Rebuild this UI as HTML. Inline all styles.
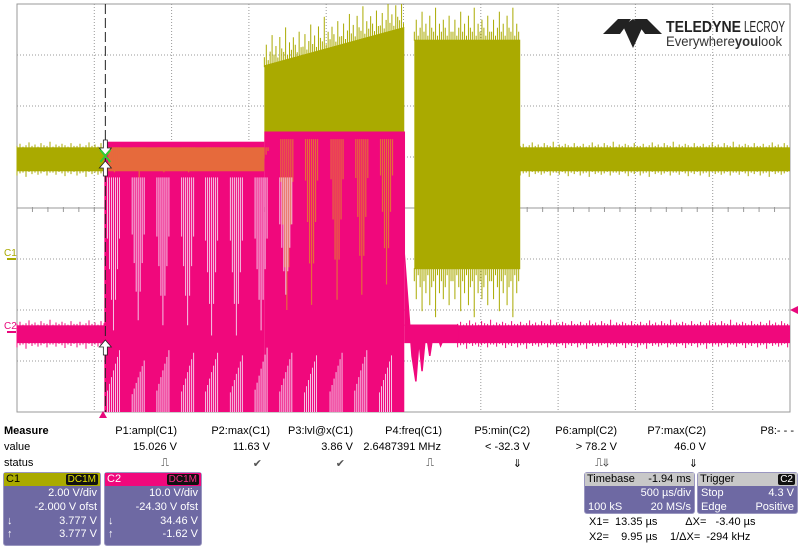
<!DOCTYPE html>
<html><head><meta charset="utf-8">
<style>
body{margin:0;background:#fff;width:800px;height:547px;overflow:hidden;font-family:"Liberation Sans",sans-serif;}
#scope{position:absolute;left:0;top:0;}
.t{position:absolute;font-size:11px;color:#000;white-space:nowrap;}
.r{text-align:right;}
.box{position:absolute;background:#6e69a3;border:1px solid #9a97c0;border-radius:3px;color:#fff;font-size:11px;}
.box .hd{height:13px;line-height:13px;padding:0 2px;position:relative;}
.box .ln{height:14px;line-height:14px;position:relative;padding:0 3px;}
.box .ln span{position:absolute;right:3px;}
.tag{position:absolute;right:2px;top:1px;background:#111;border-radius:2px;font-size:10px;line-height:11px;padding:0 2px;}
</style></head><body>
<svg id="scope" width="800" height="420" viewBox="0 0 800 420" xmlns="http://www.w3.org/2000/svg">
<g id="grid"></g>
<g id="traces"></g>
<g id="overlay"></g>
<g>
<polygon points="603,34 618,19 631,19 620,34" fill="#222"/>
<polygon points="662,34 647,19 634,19 645,34" fill="#222"/>
<polygon points="623,26 633,48 643,26 633,19" fill="#222"/>
<text x="666" y="32" font-family="Liberation Sans" font-size="16" font-weight="bold" fill="#222" textLength="75" lengthAdjust="spacingAndGlyphs">TELEDYNE</text>
<text x="744" y="32" font-family="Liberation Sans" font-size="16" fill="#222" textLength="41" lengthAdjust="spacingAndGlyphs">LECROY</text>
<text x="666" y="46" font-family="Liberation Sans" font-size="13.5" fill="#333" textLength="116" lengthAdjust="spacingAndGlyphs">Everywhere<tspan font-weight="bold">you</tspan>look</text>
</g>
<text x="4" y="256" font-size="10" fill="#aaaa00" font-family="Liberation Sans">C1</text>
<rect x="7" y="258" width="9" height="2" fill="#aaaa00"/>
<text x="4" y="329" font-size="10" fill="#e8087c" font-family="Liberation Sans">C2</text>
<rect x="7" y="331" width="9" height="2" fill="#e8087c"/>
<polygon points="790,310 798,306 798,314" fill="#e8087c"/>
<polygon points="103,411 99,418 107,418" fill="#e8087c"/>
</svg>

<div class="t" style="left:4px;top:425px;font-weight:bold;">Measure</div>
<div class="t" style="left:4px;top:441px;">value</div>
<div class="t" style="left:4px;top:457px;">status</div>
<div id="meas"></div>

<div class="box" style="left:3px;top:472px;width:96px;height:72px;">
<div class="hd" style="background:#aaaa00;color:#000;">C1<span class="tag" style="color:#e6e600;">DC1M</span></div>
<div class="ln"><span>2.00 V/div</span></div>
<div class="ln"><span>-2.000 V ofst</span></div>
<div class="ln">↓<span>3.777 V</span></div>
<div class="ln" style="height:13px;line-height:13px">↑<span>3.777 V</span></div>
</div>
<div class="box" style="left:104px;top:472px;width:96px;height:72px;">
<div class="hd" style="background:#f0087c;color:#fff;">C2<span class="tag" style="color:#ff2a8a;">DC1M</span></div>
<div class="ln"><span>10.0 V/div</span></div>
<div class="ln"><span>-24.30 V ofst</span></div>
<div class="ln">↓<span>34.46 V</span></div>
<div class="ln" style="height:13px;line-height:13px">↑<span>-1.62 V</span></div>
</div>
<div class="box" style="left:584px;top:472px;width:109px;height:40px;">
<div class="hd" style="background:#c8c8c8;color:#000;">Timebase<span style="position:absolute;right:3px;">-1.94 ms</span></div>
<div class="ln"><span>500 µs/div</span></div>
<div class="ln">100 kS<span>20 MS/s</span></div>
</div>
<div class="box" style="left:697px;top:472px;width:99px;height:40px;">
<div class="hd" style="background:#c8c8c8;color:#000;">Trigger<span class="tag" style="color:#fff;">C2</span></div>
<div class="ln">Stop<span>4.3 V</span></div>
<div class="ln">Edge<span>Positive</span></div>
</div>
<div class="t" style="left:589px;top:516px;">X1=&nbsp;&nbsp;13.35 µs</div>
<div class="t" style="left:589px;top:531px;">X2=&nbsp;&nbsp;&nbsp;&nbsp;9.95 µs</div>
<div class="t" style="left:670px;top:516px;">&nbsp;&nbsp;&nbsp;&nbsp;&nbsp;ΔX=&nbsp;&nbsp;&nbsp;-3.40 µs</div>
<div class="t" style="left:670px;top:531px;">1/ΔX=&nbsp;&nbsp;-294 kHz</div>

<script>
// measurement table
const measHeaders = ["P1:ampl(C1)","P2:max(C1)","P3:lvl@x(C1)","P4:freq(C1)","P5:min(C2)","P6:ampl(C2)","P7:max(C2)","P8:- - -"];
const measValues = ["15.026 V","11.63 V","3.86 V","2.6487391 MHz","< -32.3 V","> 78.2 V","46.0 V",""];
const measStatus = ["⎍","✔","✔","⎍","⇓","⎍⇓","⇓",""];
const colRight = [177,270,353,442,530,617,706,794];
const meas = document.getElementById('meas');
function mk(txt, right, top, name){
  const d=document.createElement('div');
  d.className='t r';
  d.style.right=(800-right)+'px';
  d.style.top=top+'px';
  d.textContent=txt;
  
  
  if(txt==='✔'){d.style.color='#555';}
  meas.appendChild(d);
}
measHeaders.forEach((h,i)=>{
  mk(h,colRight[i],425,'measure-header');
  mk(measValues[i],colRight[i]-(i===3?1:0),441,'measure-value');
  mk(measStatus[i],colRight[i]-8,457,'measure-status');
});

const NS='http://www.w3.org/2000/svg';
function el(tag, attrs, parent){
  const e=document.createElementNS(NS,tag);
  for(const k in attrs) e.setAttribute(k,attrs[k]);
  parent.appendChild(e); return e;
}
const X0=17, X1=790, Y0=4, Y1=412;
const divsX=10, divsY=8;
const gx=i=>X0+(X1-X0)*i/divsX;
const gy=i=>Y0+(Y1-Y0)*i/divsY;
const grid=document.getElementById('grid');
for(let i=1;i<divsX;i++){
  const l=el('line',{x1:gx(i),x2:gx(i),y1:Y0,y2:Y1,stroke:'#999','stroke-dasharray':'1,2'},grid);
  
  
}
for(let i=1;i<divsY;i++){
  const l=el('line',{x1:X0,x2:X1,y1:gy(i),y2:gy(i),stroke:'#999','stroke-dasharray':i===4?'':'1,2'},grid);
  
  
}
for(let i=1;i<divsX*5;i++){
  const x=gx(i/5);
  el('line',{x1:x,x2:x,y1:gy(4)-1,y2:gy(4)+4,stroke:'#999'},grid);
}
const fr=el('rect',{x:X0,y:Y0,width:X1-X0,height:Y1-Y0,fill:'none',stroke:'#999'},grid);



// ---- waveform data (divisions) ----
const c1BaseTop=2.81, c1BaseBot=3.28;
const c2BaseTop=6.3, c2BaseBot=6.65;
const burstStart=1.13;
const burstEnd=5.01;
const c1Burst1=[3.2,5.01], c1Burst2=[5.14,6.51];
const c1Burst1TopL=1.2, c1Burst1TopR=0.45;
const c1Burst2Top=0.7, c1Burst2Bot=5.2;
const pinkTop=[2.7,2.5];
const groupX=[1.17,1.49,1.81,2.13,2.44,2.76,3.08,3.40,3.72,4.05,4.37,4.69];
const upperDepth=[6.4,6.2,6.3,6.3,6.5,6.5,6.4,5.7,5.9,5.6,5.7,5.5];
const lowerTop=[6.8,7.0,6.8,6.85,6.85,6.9,6.75,6.85,6.9,6.85,6.8,6.9];
const orangeDepth=[3.3,3.4,3.3,3.3,3.2,3.2,3.1,6.0,5.9,5.8,5.7,5.5];
const ringing=[[5.01,4.9],[5.06,5.9],[5.11,6.9],[5.16,7.4],[5.2,6.6],[5.24,7.2],[5.29,6.4],[5.34,6.9],[5.4,6.3],[5.48,6.7],[5.58,6.35],[5.7,6.55]];
const noise=[2,5,1,3,7,2,4,1,6,3,2,8,1,4,2,5,3,1,6,2];

const X=d=>X0+(X1-X0)*d/divsX;
const Y=d=>Y0+(Y1-Y0)*d/divsY;
const tr=document.getElementById('traces');
const YEL='#aaaa00', PNK='#f0087c', ORG='#e66a3c';
function rect(x1,y1,x2,y2,fill,name){
  const r=el('rect',{x:Math.min(x1,x2),y:Math.min(y1,y2),width:Math.abs(x2-x1),height:Math.abs(y2-y1),fill:fill},tr);
  
  
  return r;
}
function band(xa,xb,yt,yb,col,name){
  rect(xa,yt,xb,yb,col,name);
  let k=0;
  for(let x=xa;x<xb;x+=3){
    const n=noise[k%noise.length]; k++;
    el('line',{x1:x,x2:x,y1:yt-n*0.7,y2:yb+noise[(k+7)%noise.length]*0.7,stroke:col,'stroke-width':1},tr);
  }
}
band(X(0),X(burstStart),Y(c1BaseTop),Y(c1BaseBot),YEL,'c1-idle-trace');
band(X(c1Burst2[1]),X(10),Y(c1BaseTop),Y(c1BaseBot),YEL,'c1-idle-trace-after');
(function(){
  const p=el('polygon',{fill:YEL,points:[
    [X(c1Burst1[0]),Y(c1BaseTop)],[X(c1Burst1[0]),Y(c1Burst1TopL)],[X(c1Burst1[1]),Y(c1Burst1TopR)],[X(c1Burst1[1]),Y(c1BaseBot)]
  ].map(a=>a.join(',')).join(' ')},tr);
  
  
  let k=0;
  for(let d=c1Burst1[0];d<c1Burst1[1];d+=0.025){
    const t=(d-c1Burst1[0])/(c1Burst1[1]-c1Burst1[0]);
    const top=Y(c1Burst1TopL+(c1Burst1TopR-c1Burst1TopL)*t);
    const n=noise[k++%20];
    el('line',{x1:X(d),x2:X(d),y1:Math.max(Y0,top-n*4),y2:top+2,stroke:YEL,'stroke-width':1},tr);
  }
  rect(X(c1Burst2[0]),Y(c1Burst2Top),X(c1Burst2[1]),Y(c1Burst2Bot),YEL,'c1-burst-2');
  k=0;
  for(let d=c1Burst2[0];d<c1Burst2[1];d+=0.025){
    const n=noise[k++%20];
    el('line',{x1:X(d),x2:X(d),y1:Math.max(Y0,Y(c1Burst2Top)-n*4),y2:Y(c1Burst2Top)+1,stroke:YEL,'stroke-width':1},tr);
    el('line',{x1:X(d),x2:X(d),y1:Y(c1Burst2Bot)-1,y2:Y(c1Burst2Bot)+n*6,stroke:YEL,'stroke-width':1},tr);
  }
})();
band(X(ringing[ringing.length-1][0]),X(10),Y(c2BaseTop),Y(c2BaseBot),PNK,'c2-idle-trace-after');
band(X(0),X(burstStart),Y(c2BaseTop),Y(c2BaseBot),PNK,'c2-idle-trace');
rect(X(burstStart),Y(pinkTop[0]),X(c1Burst1[0]),Y(8),PNK,'c2-burst-early');
rect(X(c1Burst1[0]),Y(pinkTop[1]),X(burstEnd),Y(8),PNK,'c2-burst-late');
rect(X(burstStart+0.05),Y(c1BaseTop),X(c1Burst1[0]),Y(c1BaseBot),ORG,'overlap-band');
groupX.forEach((g,i)=>{
  const gx0=X(g);
  for(let j=0;j<7;j++){
    const prof=1-Math.abs(j-3)/4;
    const top=i<7?Y(c1BaseTop):Y(pinkTop[1]+0.15);
    const bot=top+(Y(orangeDepth[i])-top)*prof;
    el('line',{x1:gx0+j*2+1,x2:gx0+j*2+1,y1:top,y2:bot,stroke:ORG,'stroke-width':1.2},tr);
  }
  if(i<8){
    for(let j=0;j<7;j++){
      const prof=1-Math.abs(j-3)/5;
      const top=Y(3.4);
      const bot=top+(Y(upperDepth[i])-top)*prof;
      el('line',{x1:gx0+j*2,x2:gx0+j*2,y1:top,y2:bot,stroke:'#f4d8f0','stroke-width':0.9},tr);
    }
  }
  for(let j=0;j<7;j++){
    const top=Y(8)-(Y(8)-Y(lowerTop[i]))*(0.35+j*0.11);
    el('line',{x1:gx0+j*2,x2:gx0+j*2,y1:top,y2:Y(8),stroke:'#f4d8f0','stroke-width':0.9},tr);
  }
});
(function(){
  const pts=[[X(burstEnd),Y(pinkTop[1])]];
  ringing.forEach(r=>pts.push([X(r[0]),Y(r[1])]));
  pts.push([X(ringing[ringing.length-1][0]),Y(c2BaseTop)]);
  pts.push([X(burstEnd),Y(c2BaseTop)]);
  const p=el('polyline',{points:pts.map(a=>a.join(',')).join(' '),fill:PNK,stroke:PNK,'stroke-width':1.5},tr);
  
  
  rect(X(burstEnd),Y(c2BaseTop),X(ringing[ringing.length-1][0]),Y(c2BaseBot),PNK,'c2-ringing-band');
})();

const ov=document.getElementById('overlay');
const cx=X(1.13)+1;
const cl=el('line',{x1:cx,x2:cx,y1:Y0,y2:Y1,stroke:'#222','stroke-dasharray':'10,4','stroke-width':1},ov);


function arrow(y,up){
  const s=up?-1:1;
  const p=el('polygon',{points:[[cx-2,y],[cx+2,y],[cx+2,y+8*s],[cx+6,y+8*s],[cx,y+15*s],[cx-6,y+8*s],[cx-2,y+8*s]].map(a=>a.join(',')).join(' '),fill:'#fff',stroke:'#222','stroke-width':0.8},ov);
  
  
}
arrow(140,false); arrow(176,true); arrow(355,true);
el('path',{d:`M${cx-5},150 L${cx+5},162 M${cx+5},150 L${cx-5},162`,stroke:'#3c3',"stroke-width":2},ov);
</script>
</body></html>
